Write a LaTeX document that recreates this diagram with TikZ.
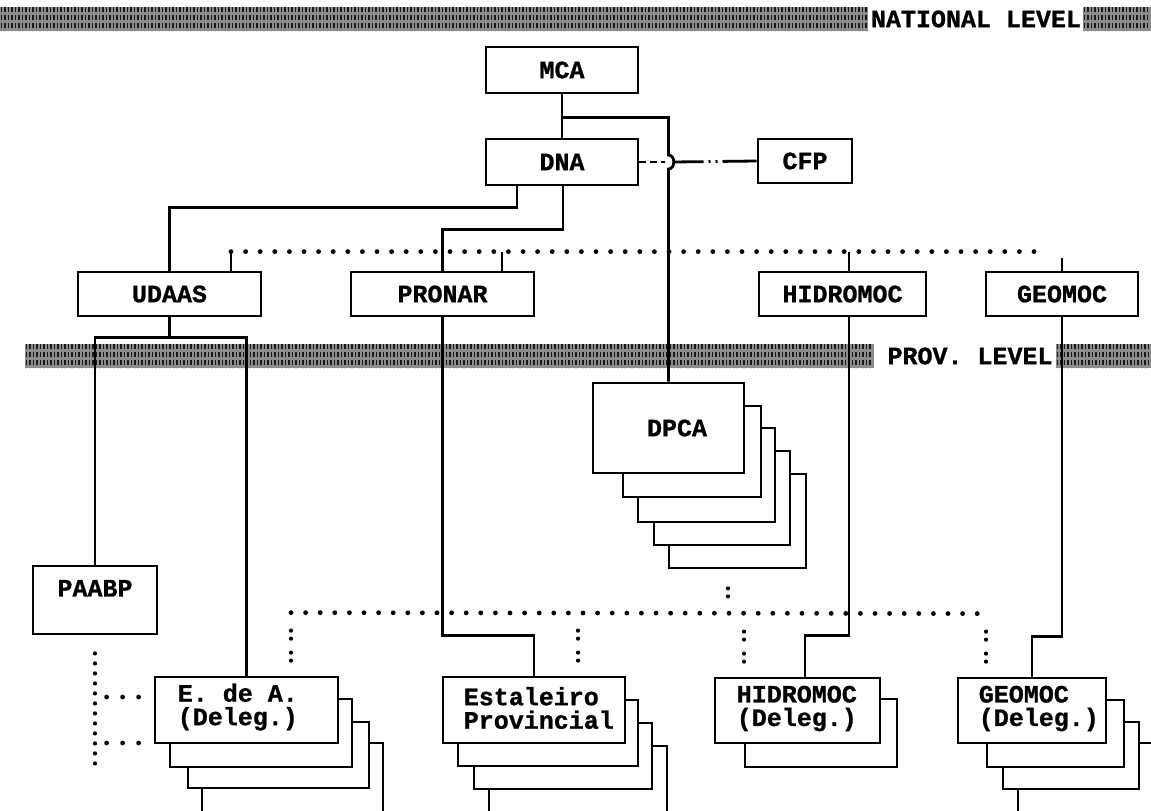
\documentclass[tikz,border=0pt]{standalone}
\usepackage{fontspec}
\newfontfamily\boxfont{Liberation Mono}[BoldFeatures={FakeBold=1}]
\newcommand\lblfont{\boxfont\bfseries\fontsize{25}{23.5}\selectfont}
\begin{document}
\begin{tikzpicture}[x=1pt,y=-1pt,
  box/.style={draw,line width=2.8pt,fill=white,inner sep=0pt,font=\lblfont},
  txt/.style={inner sep=0pt,font=\lblfont,align=left},
  back/.style={draw,line width=2.8pt,fill=white},
  conn/.style={line width=2.8pt},
  dotl/.style={line width=4.8pt,line cap=round,dash pattern=on 0pt off 14.6pt},
  colon/.style={line width=4.2pt,line cap=round,dash pattern=on 0pt off 8pt on 0pt off 14pt},
  vdots/.style={line width=4.2pt,line cap=round,dash pattern=on 0pt off 10pt},
  hdots/.style={line width=4.8pt,line cap=round,dash pattern=on 0pt off 16pt},
  bandfill/.style={fill=black!45},
  tick/.style={black!90,line width=1.6pt,dash pattern=on 5pt off 3pt},
  bandtxt/.style={inner sep=0pt,font=\lblfont}]
\useasboundingbox (0,0) rectangle (1151,811);
\clip (0,0) rectangle (1151,811);
% ---- level bands
\fill[bandfill] (0,7) rectangle (868,31);
\foreach \x in {1.5,5,...,867} \draw[tick] (\x,7) -- (\x,31);
\fill[bandfill] (1083,7) rectangle (1151,31);
\foreach \x in {1084.5,1088,...,1150} \draw[tick] (\x,7) -- (\x,31);
\node[bandtxt] (natl) at (976,19) {NATIONAL LEVEL};
\fill[bandfill] (25,344) rectangle (874,368);
\foreach \x in {26.5,30,...,873} \draw[tick] (\x,344) -- (\x,368);
\fill[bandfill] (1056,344) rectangle (1151,368);
\foreach \x in {1057.5,1061,...,1150} \draw[tick] (\x,344) -- (\x,368);
\node[bandtxt] (prov) at (970,356) {PROV. LEVEL};
% ---- national level boxes
\node[box,minimum width=152,minimum height=46] (MCA) at (562,70) {MCA};
\node[box,minimum width=152,minimum height=46] (DNA) at (562,162) {DNA};
\node[box,minimum width=94,minimum height=44] (CFP) at (805,161) {CFP};
\node[box,minimum width=183,minimum height=44] (UDAAS) at (169.5,294) {UDAAS};
\node[box,minimum width=183,minimum height=44] (PRONAR) at (442.5,294) {PRONAR};
\node[box,minimum width=167,minimum height=44] (HIDRO) at (842.5,294) {HIDROMOC};
\node[box,minimum width=152,minimum height=44] (GEO) at (1062,294) {GEOMOC};
% ---- DPCA stack
\draw[back] (669,474) rectangle (806,568);
\draw[back] (654,451) rectangle (790,545);
\draw[back] (638,428) rectangle (775,522);
\draw[back] (623,406) rectangle (761,497);
\node[box,minimum width=151,minimum height=90] (DPCA) at (668.5,428) {\hspace*{17pt}DPCA};
% ---- provincial boxes
\node[box,minimum width=124,minimum height=68,align=center] (PAABP) at (95,600) {PAABP\\\mbox{}};
\draw[back] (202,743) rectangle (383,812);
\draw[back] (188,722) rectangle (369,788);
\draw[back] (170,699) rectangle (352,767);
\node[box,minimum width=183,minimum height=66] (EdA) at (246.5,710) {};
\node[txt,anchor=west] (EdAt) at ([xshift=24,yshift=3]EdA.west) {E. de A.\\(Deleg.)};
\draw[back] (489,746) rectangle (667,812);
\draw[back] (474,723) rectangle (652,789);
\draw[back] (458,700) rectangle (638,766);
\node[box,minimum width=182,minimum height=66] (Est) at (534,710) {};
\node[txt,anchor=west] (Estt) at ([xshift=22,yshift=2]Est.west) {Estaleiro\\Provincial};
\draw[back] (745,699) rectangle (897,767);
\node[box,minimum width=165,minimum height=65] (HD) at (797.5,710.5) {};
\node[txt,anchor=west] (HDt) at ([xshift=23,yshift=2]HD.west) {HIDROMOC\\(Deleg.)};
\draw[back] (1018,743) rectangle (1165,812);
\draw[back] (1003,722) rectangle (1139,789);
\draw[back] (987,700) rectangle (1124,767);
\node[box,minimum width=148,minimum height=65] (GD) at (1032,710.5) {};
\node[txt,anchor=west] (GDt) at ([xshift=22,yshift=2]GD.west) {GEOMOC\\(Deleg.)};
% ---- connectors national
\draw[conn] (MCA.south) -- (DNA.north);
\path (MCA.south) ++(0,23) coordinate (b1);
\coordinate (hop) at (DPCA.north |- DNA.east);
\draw[conn] (b1) -| ([yshift=7]hop) .. controls +(7,0) and +(7,0) .. ([yshift=-7]hop) -- (DPCA.north);
\draw[conn,dash pattern=on 7pt off 4pt] (DNA.east) -- ([xshift=-4]hop);
\draw[conn,dash pattern=on 30pt off 5pt on 2pt off 5pt on 2pt off 5pt on 60pt] ([xshift=5]hop) -- (CFP.west);
\draw[conn] ([xshift=-45]DNA.south) -- ++(0,21) -| (UDAAS.north);
\draw[conn] ([xshift=1]DNA.south) -- ++(0,43) -| (PRONAR.north);
% ---- upper dotted line
\draw[conn] ([xshift=61.5]UDAAS.north) -- ++(0,-19) coordinate (d1);
\draw[conn] ([xshift=59.5]PRONAR.north) -- ++(0,-19);
\draw[conn] ([xshift=6.5]HIDRO.north) -- ++(0,-19);
\draw[conn] (GEO.north) -- ++(0,-13);
\coordinate (g1) at ([xshift=-15]GEO.north);
\draw[dotl] (d1) -- (g1 |- d1);
% ---- connectors provincial
\draw[conn] (UDAAS.south) -- ++(0,20);
\draw[conn] (PAABP.north) |- ([yshift=-20]UDAAS.south) -| (EdA.north);
\draw[conn] (PRONAR.south) -- ++(0,318) -| (Est.north);
\draw[conn] ([xshift=6.5]HIDRO.south) -- ++(0,318) -| ([xshift=7.5]HD.north);
\draw[conn] (GEO.south) -- ++(0,319) -| (GD.north);
% ---- lower dotted line and colons
\coordinate (c1) at ([xshift=44.5]EdA.north);
\coordinate (c2) at ([xshift=44]Est.north);
\coordinate (c3) at ([xshift=-53.5]HD.north);
\coordinate (c4) at ([xshift=-46]GD.north);
\draw[dotl] ([yshift=63]c1) -- ([yshift=63]c4);
\foreach \c in {c1,c2,c3,c4} \draw[colon] ([yshift=15]\c) -- ++(0,-31);
\draw[colon] ([xshift=59.5,yshift=-114]DPCA.south) -- ++(0,8);
\draw[vdots] ([yshift=-18]PAABP.south) -- ++(0,120);
\draw[hdots] ([xshift=-15,yshift=13]EdA.west) -- ++(-33,0);
\draw[hdots] ([xshift=-15,yshift=-33]EdA.west) -- ++(-33,0);
\end{tikzpicture}
\end{document}
